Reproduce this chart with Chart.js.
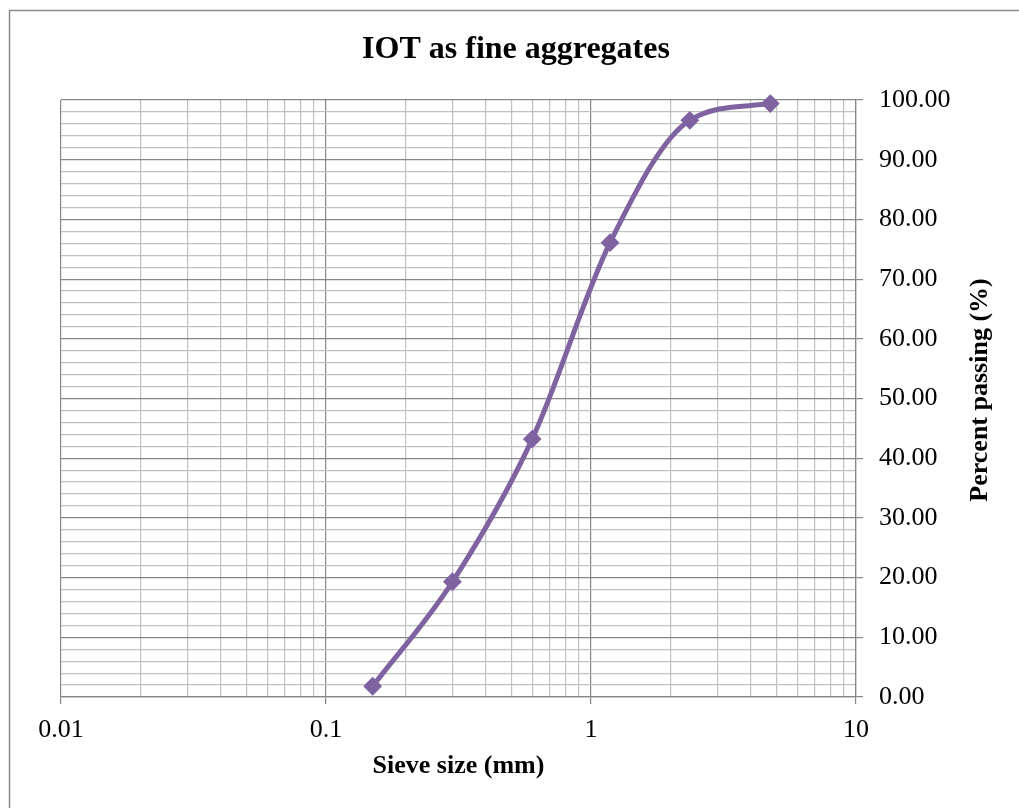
<!DOCTYPE html>
<html>
<head>
<meta charset="utf-8">
<script src="https://cdn.jsdelivr.net/npm/chart.js@4.4.0/dist/chart.umd.min.js"></script>
<style>
  html, body { margin: 0; padding: 0; background: #fff; overflow: hidden; }
</style>
</head>
<body>
<canvas id="chart" width="1019" height="808"></canvas>
<script>
// sieve analysis data
const sieveSizes = [0.15, 0.3, 0.6, 1.18, 2.36, 4.75];
const percentPassing = [1.8, 19.3, 43.2, 76.1, 96.6, 99.4];
const xTickLabels = ["0.01", "0.1", "1", "10"];

const FONT = "'Liberation Serif', 'Times New Roman', serif";
const PURPLE = "#7f63a1";
const MAJOR = "#878787";
const MINOR = "#c0c0c0";

// log grid: 1..9 in each decade from 0.01 to 10
const xGrid = [];
for (let e = -2; e <= 0; e++) {
  for (let d = 1; d <= 9; d++) xGrid.push({ value: d * Math.pow(10, e), major: d === 1, label: d === 1 ? xTickLabels[e + 2] : "" });
}
xGrid.push({ value: 10, major: true, label: xTickLabels[3] });

const frame = {
  id: "frame",
  beforeDraw(chart) {
    const ctx = chart.ctx;
    ctx.save();
    ctx.fillStyle = "#fff";
    ctx.fillRect(0, 0, chart.width, chart.height);
    ctx.strokeStyle = "#898989";
    ctx.lineWidth = 1.5;
    ctx.strokeRect(9.5, 10.5, 1200, 1000);
    ctx.restore();
  },
  afterDraw(chart) {
    const ctx = chart.ctx;
    ctx.save();
    ctx.fillStyle = "#000";
    ctx.textAlign = "center";
    ctx.textBaseline = "middle";
    ctx.font = "bold 32px " + FONT;
    ctx.fillText("IOT as fine aggregates", 516, 50);
    ctx.translate(980, 390);
    ctx.rotate(-Math.PI / 2);
    ctx.font = "bold 26px " + FONT;
    ctx.fillText("Percent passing (%)", 0, 0);
    ctx.restore();
  }
};

new Chart(document.getElementById("chart"), {
  type: "line",
  data: {
    datasets: [{
      label: "IOT as fine aggregates",
      data: sieveSizes.map((s, i) => ({ x: s, y: percentPassing[i] })),
      borderColor: PURPLE,
      backgroundColor: PURPLE,
      borderWidth: 5,
      cubicInterpolationMode: "monotone",
      pointStyle: "rectRot",
      pointRadius: 8,
      pointBorderWidth: 2,
      pointBackgroundColor: PURPLE,
      pointBorderColor: PURPLE,
      clip: false
    }]
  },
  options: {
    responsive: false,
    animation: false,
    layout: { padding: { left: 61, right: 0, top: 100, bottom: 0 } },
    plugins: {
      legend: { display: false },
      tooltip: { enabled: false },
      title: { display: false }
    },
    scales: {
      x: {
        type: "logarithmic",
        min: 0.01,
        max: 10,
        afterBuildTicks: s => { s.ticks = xGrid.map(g => ({ value: g.value, major: g.major })); },
        afterFit: s => { s.height = 111; },
        ticks: {
          autoSkip: false,
          maxRotation: 0,
          padding: 11,
          color: "#000",
          font: { family: FONT, size: 26 },
          callback: (v, i) => xGrid[i] ? xGrid[i].label : ""
        },
        grid: {
          color: c => (c.tick && c.tick.major) ? MAJOR : MINOR,
          tickColor: c => (c.tick && c.tick.major) ? MAJOR : "rgba(0,0,0,0)",
          tickLength: 7,
          lineWidth: 1.2
        },
        border: { color: MAJOR, width: 1.2 },
        title: {
          display: true,
          text: "Sieve size (mm)",
          color: "#000",
          font: { family: FONT, size: 26, weight: "bold", lineHeight: 1.2 },
          padding: { top: 0, bottom: 26 }
        }
      },
      y: {
        position: "right",
        min: 0,
        max: 100,
        afterFit: s => { s.width = 163; },
        ticks: {
          stepSize: 2,
          autoSkip: false,
          padding: 16,
          color: "#000",
          font: { family: FONT, size: 26 },
          callback: v => v % 10 === 0 ? v.toFixed(2) : ""
        },
        grid: {
          color: c => (c.tick && c.tick.value % 10 === 0) ? MAJOR : MINOR,
          tickColor: c => (c.tick && c.tick.value % 10 === 0) ? MAJOR : "rgba(0,0,0,0)",
          tickLength: 7,
          lineWidth: 1.2
        },
        border: { color: MAJOR, width: 1.2 }
      }
    }
  },
  plugins: [frame]
});
</script>
</body>
</html>
